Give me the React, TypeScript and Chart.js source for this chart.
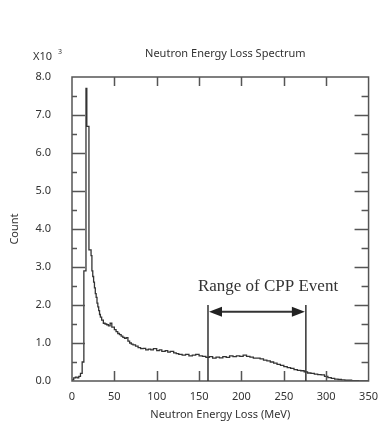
import React, { useEffect, useRef } from 'react';
import { Chart, registerables } from 'chart.js';
Chart.register(...registerables);

// Neutron energy loss (MeV), bin start
const energyMeV = [
  0, 2, 4, 6, 8, 10, 12, 14, 16.5, 17.5, 20, 22.5, 23.5, 24.5, 25.5, 26.5, 27.5, 28.5, 29.5, 30.5, 31.5, 32.5, 33.5,
  35, 37, 39, 41, 43, 45, 47, 48, 50,
  52, 54, 56, 58, 60, 62, 64, 66, 68, 70, 72, 75, 78, 81, 84, 87, 90, 93, 96, 100, 103, 106, 110, 113, 116, 120,
  123, 126, 130, 134, 138, 142, 146, 150, 154, 158, 162, 166, 170, 174, 178, 182, 186, 190, 194, 198, 202, 206,
  210, 214, 218, 222, 226, 230, 234, 238, 242, 246, 250, 254, 258, 262, 266, 270, 274, 278, 282, 286, 290, 294,
  298, 302, 306, 310, 314, 318, 322, 326, 330, 334, 338, 342, 350,
];
// Count (x10^3)
const countK = [
  0.0, 0.03, 0.08, 0.1, 0.08, 0.12, 0.2, 0.5, 2.9, 7.7, 6.7, 3.45, 3.3, 2.9, 2.75, 2.6, 2.45, 2.3, 2.2, 2.05, 1.95,
  1.85, 1.75, 1.68, 1.6, 1.52, 1.5, 1.48, 1.45, 1.52, 1.42, 1.42,
  1.35, 1.3, 1.25, 1.22, 1.18, 1.15, 1.12, 1.14, 1.05, 1.0, 0.97, 0.95,
  0.92, 0.88, 0.85, 0.86, 0.82, 0.84, 0.82, 0.85, 0.8, 0.82, 0.78, 0.8, 0.76, 0.78, 0.74, 0.72, 0.7, 0.68, 0.7, 0.66,
  0.68, 0.7, 0.66, 0.65, 0.62, 0.64, 0.6, 0.63, 0.61, 0.64, 0.62, 0.66, 0.64, 0.66, 0.65, 0.68, 0.65, 0.63, 0.6, 0.6,
  0.58, 0.55, 0.53, 0.5, 0.47, 0.44, 0.41, 0.38, 0.35, 0.33, 0.3, 0.28, 0.27, 0.24, 0.21, 0.2, 0.18, 0.17, 0.16,
  0.12, 0.09, 0.07, 0.05, 0.04, 0.03, 0.02, 0.02, 0.01, 0.01, 0.0, 0.0,
];

const xTickValues = [0, 50, 100, 150, 200, 250, 300, 350];
const yTickValues = [0, 1, 2, 3, 4, 5, 6, 7, 8];
const yMinorValues = [0.5, 1.5, 2.5, 3.5, 4.5, 5.5, 6.5, 7.5];

const chartTitle = 'Neutron Energy Loss Spectrum';
const xTitle = 'Neutron Energy Loss (MeV)';
const yTitle = 'Count';
const rangeLabel = 'Range of CPP Event';
const rangeStart = 160.5;
const rangeEnd = 276;
const rangeTop = 2.0;
const arrowLevel = 1.82;

const SANS = '"Noto Sans", sans-serif';
const TEXT = '#333';
const FRAME = '#555';

const framePlugin = {
  id: 'frame',
  afterDraw(chart: any) {
    const { ctx, chartArea: a, scales } = chart;
    const xs = scales.x;
    const ys = scales.y;
    ctx.save();
    ctx.strokeStyle = FRAME;
    ctx.lineWidth = 1.5;
    ctx.strokeRect(a.left, a.top, a.right - a.left, a.bottom - a.top);
    ctx.beginPath();
    xTickValues.forEach((v) => {
      if (v === 0 || v === 350) return;
      const px = Math.round(xs.getPixelForValue(v)) + 0.5;
      ctx.moveTo(px, a.top);
      ctx.lineTo(px, a.top + 9);
      ctx.moveTo(px, a.bottom);
      ctx.lineTo(px, a.bottom - 10);
    });
    yTickValues.forEach((v) => {
      if (v === 0 || v === 8) return;
      const py = Math.round(ys.getPixelForValue(v)) + 0.5;
      ctx.moveTo(a.left, py);
      ctx.lineTo(a.left + 13, py);
      ctx.moveTo(a.right, py);
      ctx.lineTo(a.right - 14, py);
    });
    yMinorValues.forEach((v) => {
      const py = Math.round(ys.getPixelForValue(v)) + 0.5;
      ctx.moveTo(a.left, py);
      ctx.lineTo(a.left + 5, py);
      ctx.moveTo(a.right, py);
      ctx.lineTo(a.right - 7, py);
    });
    ctx.stroke();

    ctx.fillStyle = TEXT;
    ctx.font = `11px ${SANS}`;
    ctx.textAlign = 'center';
    ctx.textBaseline = 'middle';
    ctx.fillText(chartTitle, (a.left + a.right) / 2 + 5, 54);
    ctx.textAlign = 'left';
    ctx.fillText('X10', 33, 57);
    ctx.font = `7px ${SANS}`;
    ctx.fillText('3', 58, 52);

    const x1 = xs.getPixelForValue(rangeStart);
    const x2 = xs.getPixelForValue(rangeEnd);
    const yTop = ys.getPixelForValue(rangeTop);
    const yArrow = ys.getPixelForValue(arrowLevel);
    const yBot = ys.getPixelForValue(0);
    ctx.strokeStyle = '#333';
    ctx.lineWidth = 1.5;
    ctx.beginPath();
    ctx.moveTo(x1, yTop);
    ctx.lineTo(x1, yBot);
    ctx.moveTo(x2, yTop);
    ctx.lineTo(x2, yBot);
    ctx.stroke();
    ctx.lineWidth = 2;
    ctx.beginPath();
    ctx.moveTo(x1 + 8, yArrow);
    ctx.lineTo(x2 - 8, yArrow);
    ctx.stroke();
    ctx.fillStyle = '#222';
    ctx.beginPath();
    ctx.moveTo(x1 + 1, yArrow);
    ctx.lineTo(x1 + 14, yArrow - 5);
    ctx.lineTo(x1 + 14, yArrow + 5);
    ctx.closePath();
    ctx.fill();
    ctx.beginPath();
    ctx.moveTo(x2 - 1, yArrow);
    ctx.lineTo(x2 - 14, yArrow - 5);
    ctx.lineTo(x2 - 14, yArrow + 5);
    ctx.closePath();
    ctx.fill();
    ctx.fillStyle = TEXT;
    ctx.font = '17px "Liberation Serif", "DejaVu Serif", serif';
    ctx.textAlign = 'center';
    ctx.textBaseline = 'middle';
    ctx.fillText(rangeLabel, 268, 287);
    ctx.restore();
  },
};

export default function App() {
  const ref = useRef<HTMLCanvasElement>(null);
  useEffect(() => {
    document.body.style.margin = '0';
    const points = energyMeV.map((e, i) => ({ x: e, y: countK[i] }));
    const chart = new Chart(ref.current!, {
      type: 'line',
      data: {
        datasets: [
          {
            data: points,
            borderColor: '#333',
            borderWidth: 1.3,
            pointRadius: 0,
            stepped: 'after',
            fill: false,
          },
        ],
      },
      options: {
        animation: false,
        responsive: false,
        layout: { padding: { top: 77, right: 9, left: 0, bottom: 0 } },
        plugins: { legend: { display: false }, tooltip: { enabled: false } },
        scales: {
          x: {
            type: 'linear',
            min: 0,
            max: 350,
            afterFit: (s: any) => {
              s.height = 43;
            },
            afterBuildTicks: (s: any) => {
              s.ticks = xTickValues.map((v) => ({ value: v }));
            },
            grid: { display: false, drawTicks: false, tickLength: 0 },
            border: { display: false },
            ticks: {
              padding: 9,
              color: TEXT,
              font: { family: SANS, size: 11 },
              maxRotation: 0,
              autoSkip: false,
              callback: (v: any) => String(v),
            },
            title: {
              display: true,
              text: xTitle,
              color: TEXT,
              font: { family: SANS, size: 11 },
              padding: { top: 0, bottom: 3 },
            },
          },
          y: {
            type: 'linear',
            min: 0,
            max: 8,
            afterFit: (s: any) => {
              s.width = 72;
            },
            afterBuildTicks: (s: any) => {
              s.ticks = yTickValues.map((v) => ({ value: v }));
            },
            grid: { display: false, drawTicks: false, tickLength: 0 },
            border: { display: false },
            ticks: {
              padding: 21,
              color: TEXT,
              font: { family: SANS, size: 11 },
              autoSkip: false,
              callback: (v: any) => Number(v).toFixed(1),
            },
            title: {
              display: true,
              text: yTitle,
              color: TEXT,
              font: { family: SANS, size: 11 },
              padding: { top: 8, bottom: 0 },
            },
          },
        },
      },
      plugins: [framePlugin],
    });
    return () => chart.destroy();
  }, []);
  return <canvas ref={ref} width={387} height={424} style={{ display: 'block' }} />;
}
